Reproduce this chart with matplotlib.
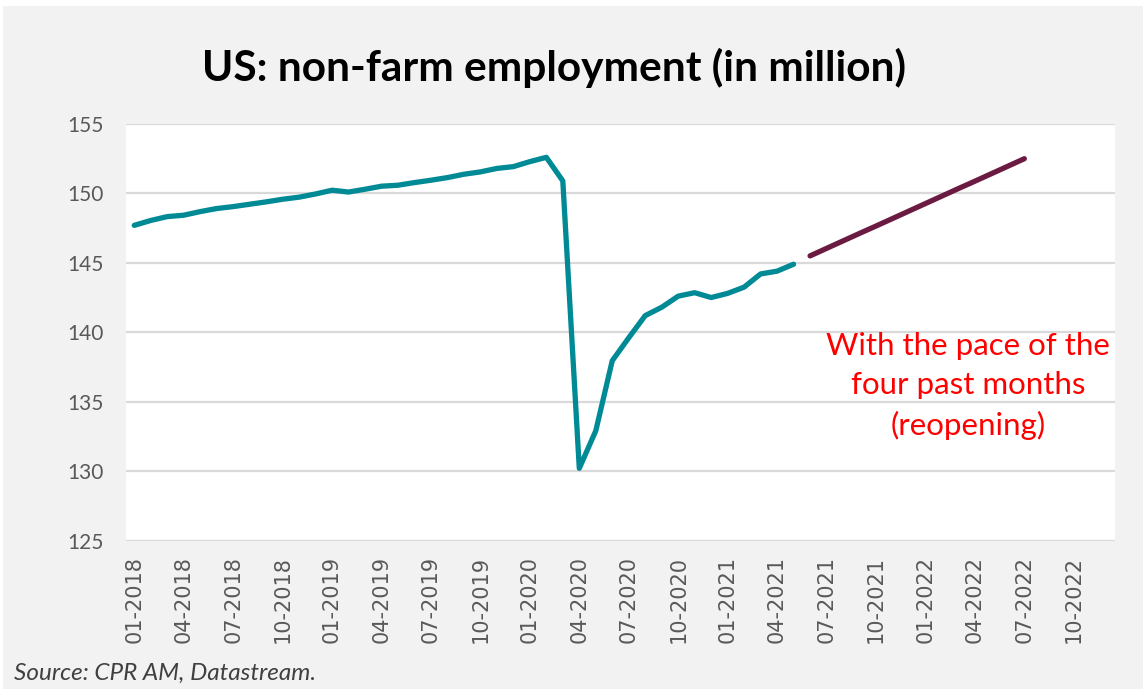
import numpy as np
import pandas as pd
import matplotlib.pyplot as plt
from matplotlib.patches import Rectangle

# === Monthly series (millions), 01-2018 .. 05-2021 ===
empleo = [147.7, 148.05, 148.33, 148.43, 148.69, 148.91, 149.05, 149.22, 149.39, 149.58, 149.73, 149.96,
          150.23, 150.1, 150.3, 150.52, 150.59, 150.78, 150.95, 151.14, 151.38, 151.55, 151.8, 151.93,
          152.29, 152.6, 150.9, 130.2, 132.9, 137.95, 139.6, 141.2, 141.8, 142.6, 142.85, 142.5,
          142.8, 143.25, 144.2, 144.4, 144.9]

# Projection 06-2021 .. 07-2022
proyeccion = [145.5, 146.04, 146.58, 147.12, 147.65, 148.19, 148.73, 149.27, 149.81, 150.35,
              150.88, 151.42, 151.96, 152.5]

meses = pd.date_range("2018-01-01", "2022-12-01", freq="MS")
etiquetas = [m.strftime("%m-%Y") for m in meses]
ticks_y = [125, 130, 135, 140, 145, 150, 155]

titulo = "US: non-farm employment (in million)"
nota = "With the pace of the\nfour past months\n(reopening)"
fuente = "Source: CPR AM, Datastream."

plt.rcParams['font.family'] = ['Lato', 'DejaVu Sans']

fig = plt.figure(figsize=(11.43, 6.89), dpi=100, facecolor='white')
fig.patches.append(Rectangle((3 / 1143, 0), 1, 1 - 6 / 689, transform=fig.transFigure,
                             facecolor='#f2f2f2', edgecolor='none', zorder=-10))

ax = fig.add_axes([126 / 1143, 1 - 540.5 / 689, 989 / 1143, 416.5 / 689])
ax.set_facecolor('white')

x_hist = np.arange(len(empleo))
x_proj = np.arange(len(empleo), len(empleo) + len(proyeccion))

ax.plot(x_hist, empleo, color='#008a96', lw=3.8, solid_capstyle='round', solid_joinstyle='round', zorder=3)
ax.plot(x_proj, proyeccion, color='#6b1a42', lw=3.8, solid_capstyle='round', zorder=3)

ax.set_xlim(-0.5, len(meses) - 0.5)
ax.set_ylim(125, 155)
ax.set_yticks(ticks_y)
ax.set_xticks(np.arange(0, len(meses), 3))
ax.set_xticklabels(etiquetas[::3], rotation=90, family='DejaVu Sans', fontsize=15)
ax.grid(axis='y', color='#d9d9d9', lw=1.6, zorder=1)
ax.tick_params(length=0, labelcolor='#595959')
ax.tick_params(axis='x', pad=11)
ax.tick_params(axis='y', pad=16, labelsize=15)
for s in ax.spines.values():
    s.set_visible(False)

fig.text(554 / 1143, 1 - 68 / 689, titulo, ha='center', va='center',
         fontsize=30.5, fontweight='bold', color='black')
fig.text(968 / 1143, 1 - 386 / 689, nota, ha='center', va='center',
         fontsize=22.5, color='red', linespacing=1.5)
fig.text(14 / 1143, 1 - 673 / 689, fuente, ha='left', va='center',
         fontsize=17.5, style='italic', color='#404040')

fig.savefig("out.png", dpi=100, facecolor=fig.get_facecolor())
